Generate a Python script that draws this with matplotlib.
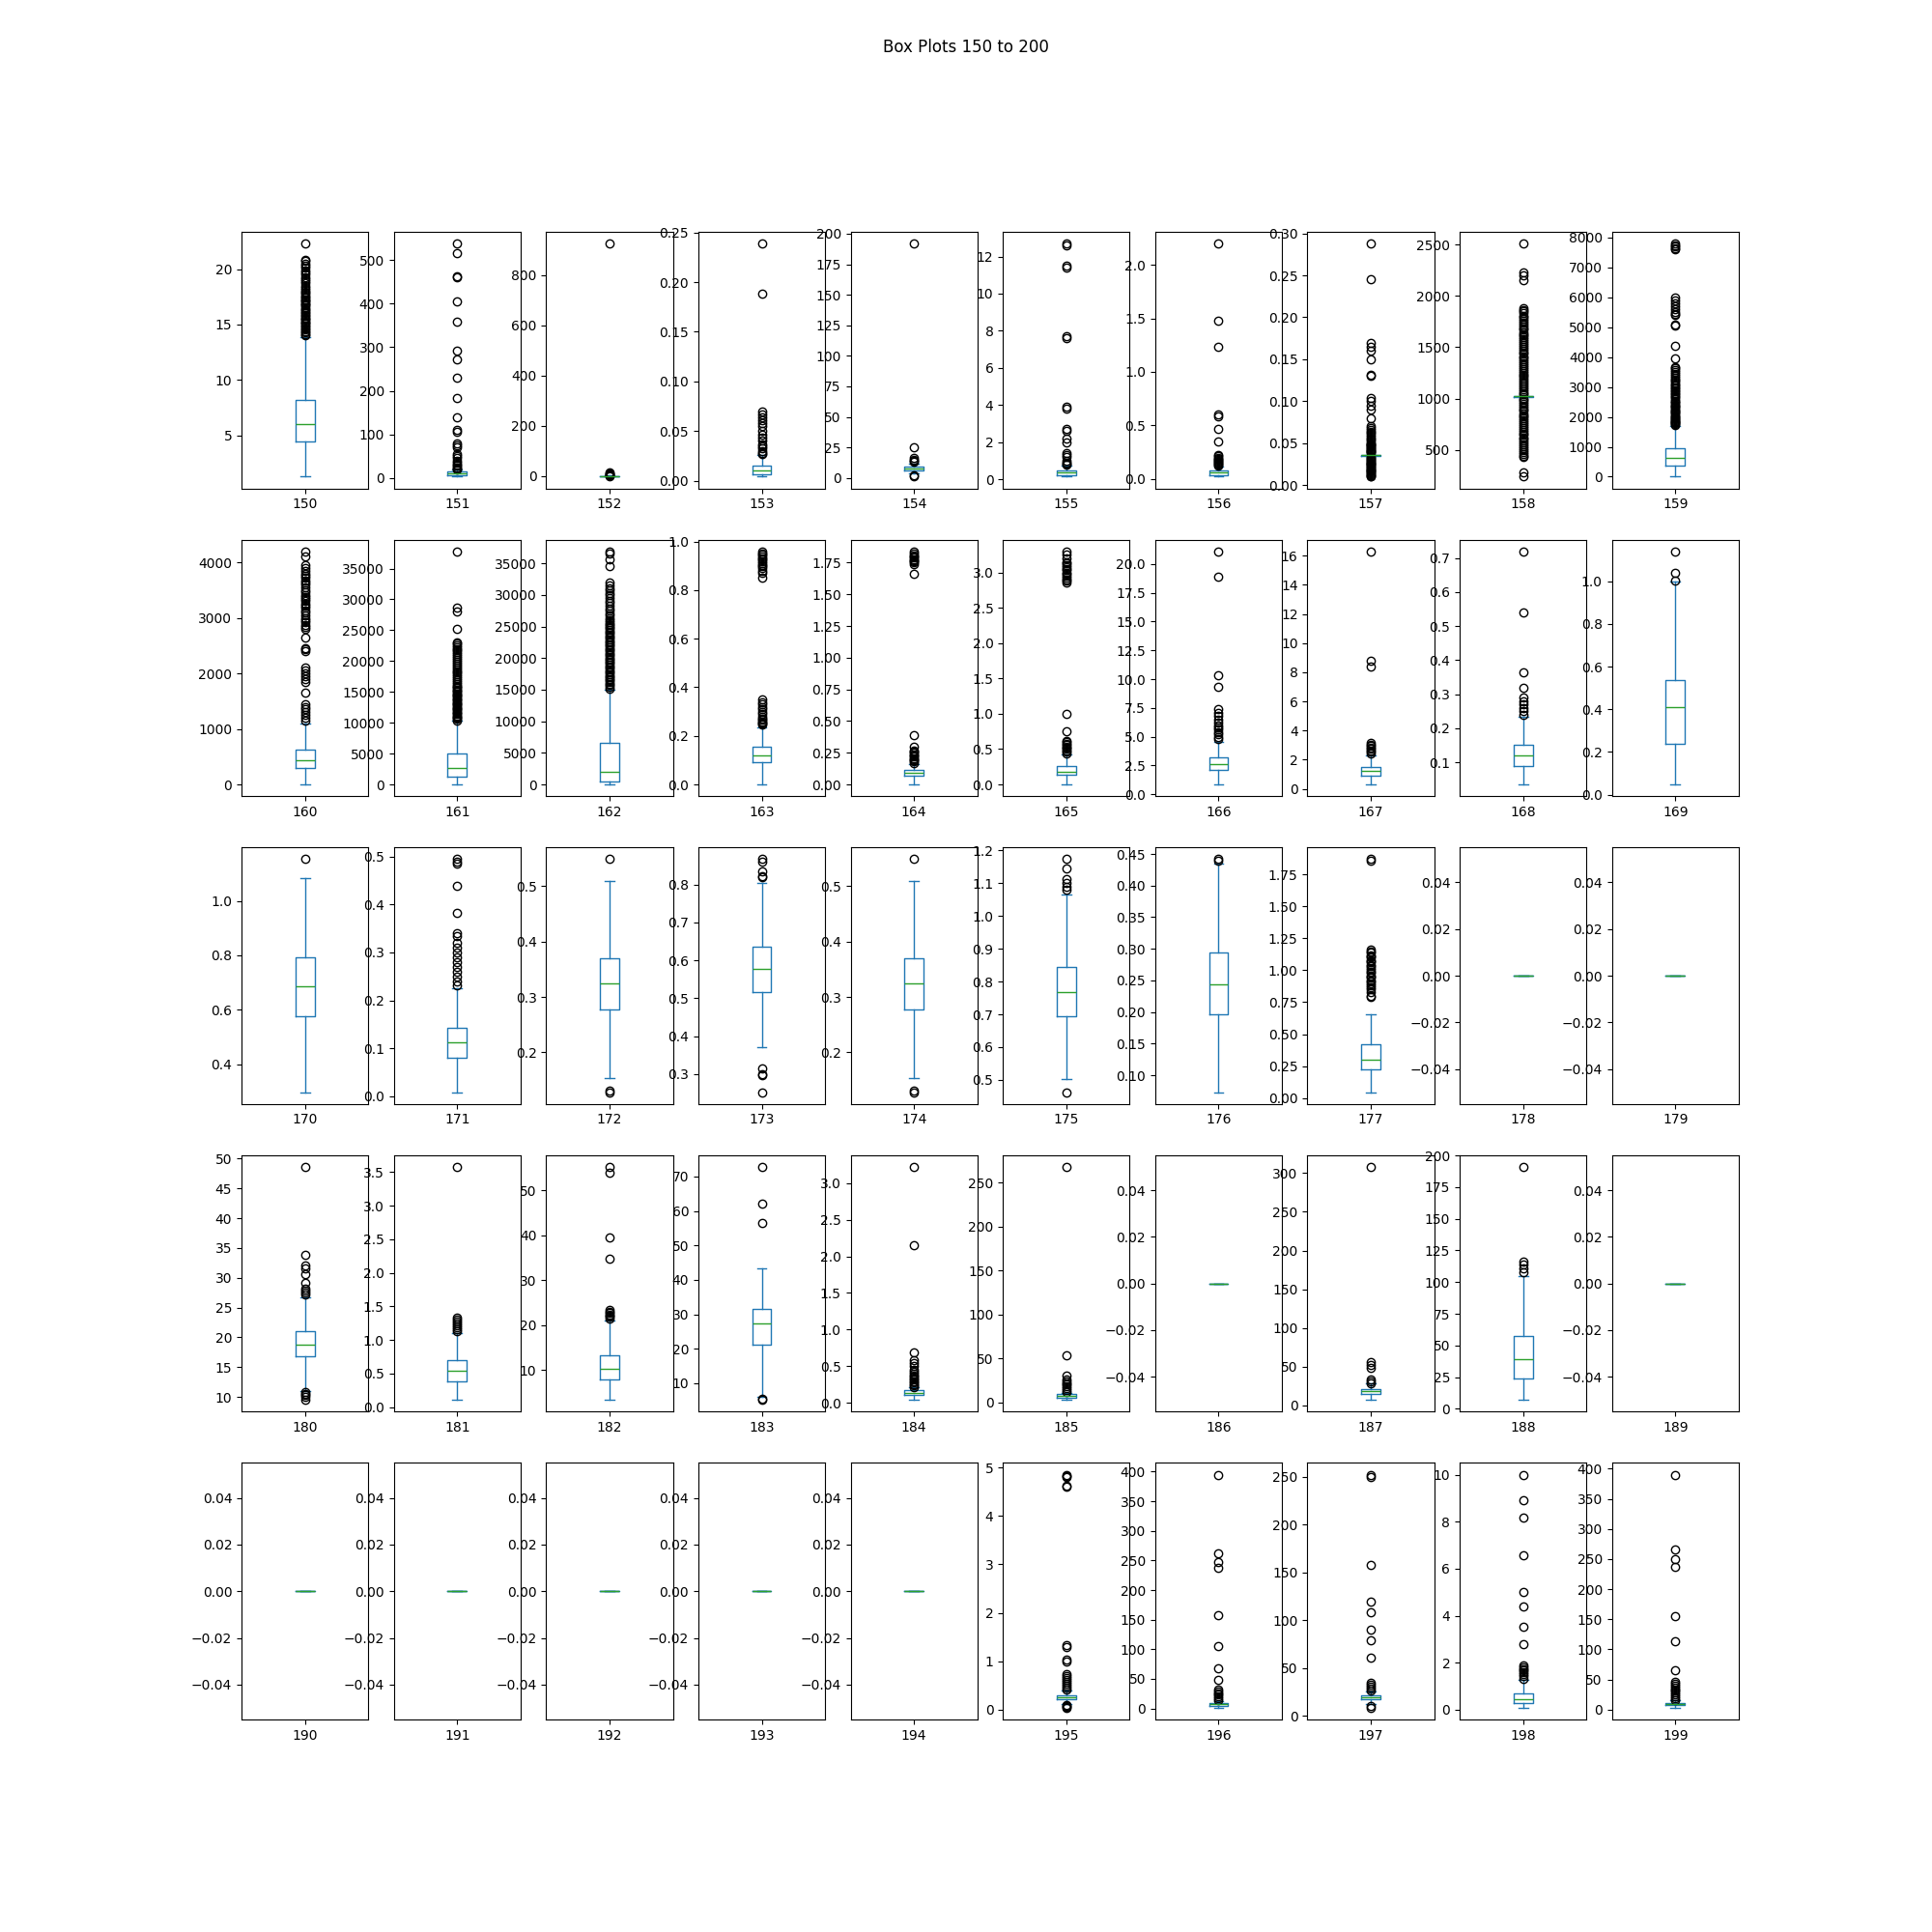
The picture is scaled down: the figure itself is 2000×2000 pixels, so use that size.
import matplotlib
matplotlib.use("Agg")
from matplotlib import pyplot as plt

# one box per column 150..199, stats
columns = list(range(150, 200))

whislo = [1.3, 3, 0, 0.004, 4, 0.15, 0.02, 0.035, 1020, 0,
          0, 0, 0, 0, 0, 0, 0.85, 0.3, 0.035, 0.048,
          0.298, 0.008, 0.153, 0.37, 0.153, 0.502, 0.073, 0.045, 0, 0,
          11.0, 0.105, 3.36, 6.0, 0.04, 2.6, 0, 7, 6.9, 0,
          0, 0, 0, 0, 0, 0.11, 1, 12, 0.08, 3]
q1 = [4.5, 7, 0, 0.0065, 6, 0.2, 0.036, 0.035, 1020, 377,
      294, 1256, 509, 0.0926, 0.07, 0.136, 2.12, 0.885, 0.09, 0.237,
      0.576, 0.0805, 0.277, 0.517, 0.277, 0.694, 0.1965, 0.225, 0, 0,
      16.78, 0.383, 7.86, 21.2, 0.106, 5.5, 0, 14.5, 24.2, 0,
      0, 0, 0, 0, 0, 0.217, 4.4, 17.8, 0.30, 7.5]
med = [6.0, 10, 0.5, 0.0107, 8, 0.36, 0.06, 0.0355, 1021, 615,
       439, 2721, 1933, 0.12, 0.095, 0.18, 2.65, 1.22, 0.12, 0.412,
       0.685, 0.113, 0.325, 0.578, 0.325, 0.768, 0.244, 0.30, 0, 0,
       18.73, 0.537, 10.2, 27.4, 0.132, 7.3, 0, 18.7, 39.5, 0,
       0, 0, 0, 0, 0, 0.263, 7, 19.5, 0.44, 10]
q3 = [8.2, 14, 1, 0.015, 9, 0.48, 0.075, 0.036, 1022, 938,
      623, 5076, 6512, 0.156, 0.116, 0.264, 3.21, 1.48, 0.151, 0.538,
      0.794, 0.1416, 0.37, 0.636, 0.37, 0.844, 0.2935, 0.42, 0, 0,
      21.0, 0.695, 13.4, 31.6, 0.172, 9.2, 0, 20.8, 57.3, 0,
      0, 0, 0, 0, 0, 0.296, 9.8, 21.1, 0.71, 11.7]
whishi = [13.9, 19, 2.5, 0.026, 12, 0.75, 0.11, 0.036, 1022, 1703,
          1102, 10310, 15007, 0.2355, 0.16, 0.43, 4.55, 2.3, 0.233, 1.0,
          1.085, 0.226, 0.509, 0.803, 0.509, 1.067, 0.435, 0.653, 0, 0,
          26.8, 1.1, 21.07, 43.2, 0.21, 11, 0, 28, 105, 0,
          0, 0, 0, 0, 0, 0.4, 12, 26, 1.25, 15]

fliers = [
    # 150
    [14.05, 14.15, 14.3, 14.4, 14.55, 14.65, 14.8, 14.9, 15.05, 15.15, 15.3,
     15.4, 15.55, 15.65, 15.8, 15.9, 16.05, 16.15, 16.3, 16.4, 16.55, 16.7,
     16.8, 16.95, 17.05, 17.2, 17.3, 17.45, 17.55, 17.7, 17.85, 17.95, 18.1,
     18.3, 18.5, 18.7, 18.9, 19.1, 19.3, 19.5, 19.7, 19.9, 20.1, 20.3, 20.5,
     20.7, 20.8, 22.3],
    # 151
    [20, 22, 25, 28, 30, 35, 40, 45, 50, 55, 70, 75, 80, 105, 110, 140, 183,
     230, 272, 292, 358, 405, 460, 463, 515, 538],
    # 152
    [-2, 4, 6, 9, 12, 15, 925],
    # 153
    [0.027, 0.028, 0.030, 0.033, 0.035, 0.037, 0.040, 0.043, 0.046, 0.050,
     0.055, 0.058, 0.061, 0.064, 0.067, 0.070, 0.188, 0.239],
    # 154
    [1, 2, 13, 14, 15, 16, 25, 192],
    # 155
    [0.8, 0.85, 0.9, 1.0, 1.2, 1.3, 1.4, 2.0, 2.2, 2.6, 2.7, 3.8, 3.9, 7.6,
     7.7, 11.4, 11.5, 12.6, 12.7],
    # 156
    [0.12, 0.13, 0.14, 0.15, 0.16, 0.17, 0.18, 0.19, 0.20, 0.21, 0.22, 0.35,
     0.47, 0.58, 0.60, 1.235, 1.476, 2.2],
    # 157
    [0.010, 0.011, 0.012, 0.013, 0.014, 0.015, 0.016, 0.017, 0.018, 0.019,
     0.020, 0.021, 0.022, 0.023, 0.024, 0.025, 0.026, 0.027, 0.028, 0.029,
     0.030, 0.031, 0.032, 0.033, 0.038, 0.039, 0.040, 0.041, 0.042, 0.043,
     0.044, 0.045, 0.046, 0.047, 0.048, 0.049, 0.050, 0.052, 0.054, 0.056,
     0.058, 0.060, 0.062, 0.064, 0.066, 0.068, 0.070, 0.080, 0.090, 0.095,
     0.100, 0.104, 0.130, 0.132, 0.150, 0.160, 0.165, 0.170, 0.246, 0.288],
    # 158
    [240, 285, 430, 445, 465, 480, 500, 520, 535, 555, 570, 590, 610, 625,
     645, 660, 680, 700, 715, 735, 750, 770, 790, 805, 825, 840, 860, 880,
     895, 915, 930, 950, 970, 985, 1000, 1040, 1055, 1075, 1090, 1110, 1130,
     1145, 1165, 1180, 1200, 1220, 1235, 1255, 1270, 1290, 1310, 1325, 1345,
     1360, 1380, 1400, 1415, 1435, 1450, 1470, 1490, 1505, 1525, 1540, 1560,
     1580, 1595, 1615, 1630, 1650, 1670, 1685, 1705, 1720, 1740, 1760, 1775,
     1795, 1810, 1830, 1850, 1865, 1880, 2150, 2200, 2230, 2510],
    # 159
    [1720, 1750, 1780, 1810, 1840, 1870, 1900, 1930, 1960, 1990, 2020, 2060,
     2100, 2140, 2180, 2220, 2260, 2300, 2340, 2380, 2420, 2460, 2500, 2550,
     2600, 2650, 2700, 2750, 2800, 2850, 2900, 2950, 3000, 3050, 3100, 3150,
     3200, 3260, 3320, 3380, 3440, 3500, 3560, 3620, 3660, 3960, 4370, 5070,
     5100, 5400, 5450, 5500, 5600, 5700, 5800, 5900, 6000, 7600, 7650, 7700,
     7750, 7800],
    # 160
    [1150, 1200, 1250, 1300, 1350, 1400, 1450, 1660, 1850, 1900, 1950, 2000,
     2050, 2100, 2400, 2430, 2460, 2640, 2800, 2840, 2880, 2920, 2960, 3000,
     3050, 3100, 3140, 3180, 3220, 3260, 3300, 3340, 3380, 3420, 3460, 3500,
     3550, 3600, 3640, 3680, 3720, 3760, 3800, 3850, 3900, 3950, 4100, 4200],
    # 161
    [10400, 10600, 10800, 11000, 11200, 11400, 11600, 11800, 12000, 12200,
     12400, 12600, 12800, 13000, 13200, 13400, 13600, 13800, 14000, 14200,
     14400, 14600, 14800, 15000, 15200, 15400, 15600, 15800, 16000, 16300,
     16600, 16900, 17200, 17500, 17800, 18100, 18400, 18700, 19000, 19300,
     19600, 19900, 20200, 20500, 20800, 21100, 21400, 21700, 22000, 22300,
     22600, 22900, 23100, 25300, 28000, 28600, 37800],
    # 162
    [15200, 15450, 15700, 15950, 16200, 16450, 16700, 16950, 17200, 17450,
     17700, 17950, 18200, 18450, 18700, 18950, 19200, 19450, 19700, 19950,
     20200, 20450, 20700, 20950, 21200, 21450, 21700, 21950, 22200, 22450,
     22700, 22950, 23200, 23450, 23700, 23950, 24200, 24450, 24700, 24950,
     25200, 25450, 25700, 25950, 26300, 26700, 27100, 27500, 27900, 28300,
     28700, 29100, 29500, 29900, 30300, 30700, 31100, 31500, 31900, 34600,
     35600, 36500, 36900],
    # 163
    [0.245, 0.25, 0.255, 0.26, 0.265, 0.27, 0.28, 0.29, 0.30, 0.31, 0.32,
     0.33, 0.34, 0.35, 0.85, 0.87, 0.88, 0.89, 0.90, 0.905, 0.91, 0.92,
     0.925, 0.93, 0.94, 0.945, 0.95, 0.96],
    # 164
    [0.17, 0.18, 0.19, 0.20, 0.21, 0.22, 0.23, 0.24, 0.25, 0.26, 0.27, 0.30,
     0.39, 1.66, 1.74, 1.75, 1.76, 1.77, 1.78, 1.79, 1.80, 1.81, 1.82, 1.84],
    # 165
    [0.44, 0.46, 0.48, 0.50, 0.52, 0.54, 0.56, 0.58, 0.60, 0.62, 0.75, 1.0,
     2.86, 2.88, 2.9, 2.93, 2.95, 2.98, 3.0, 3.03, 3.05, 3.08, 3.1, 3.13,
     3.15, 3.2, 3.25, 3.3],
    # 166
    [4.8, 5.0, 5.2, 5.4, 5.6, 5.8, 6.0, 6.2, 6.5, 6.8, 7.1, 7.4, 9.3, 10.3,
     18.9, 21.1],
    # 167
    [2.45, 2.55, 2.65, 2.75, 2.85, 2.95, 3.05, 3.15, 8.4, 8.8, 16.3],
    # 168
    [0.24, 0.25, 0.26, 0.27, 0.28, 0.29, 0.32, 0.365, 0.54, 0.72],
    # 169
    [1.005, 1.04, 1.14],
    # 170
    [1.153],
    # 171
    [0.232, 0.24, 0.25, 0.26, 0.27, 0.28, 0.29, 0.30, 0.31, 0.32, 0.335, 0.34,
     0.383, 0.44, 0.485, 0.49, 0.495],
    # 172
    [0.128, 0.131, 0.549],
    # 173
    [0.252, 0.296, 0.30, 0.315, 0.82, 0.823, 0.834, 0.86, 0.867],
    # 174
    [0.128, 0.131, 0.549],
    # 175
    [0.462, 1.08, 1.09, 1.10, 1.113, 1.144, 1.174],
    # 176
    [0.44, 0.442],
    # 177
    [0.79, 0.80, 0.83, 0.85, 0.87, 0.88, 0.90, 0.91, 0.92, 0.94, 0.95, 0.96,
     0.98, 0.99, 1.00, 1.02, 1.03, 1.04, 1.06, 1.07, 1.08, 1.10, 1.11, 1.12,
     1.14, 1.15, 1.16, 1.86, 1.87],
    # 178, 179
    [], [],
    # 180
    [9.5, 10.1, 10.3, 10.5, 10.8, 27.2, 27.5, 27.8, 28.1, 29.2, 30.6, 31.5,
     32.0, 33.9, 48.6],
    # 181
    [1.13, 1.16, 1.19, 1.22, 1.25, 1.28, 1.31, 1.33, 3.58],
    # 182
    [21.5, 21.8, 22.1, 22.4, 22.7, 23.0, 23.3, 34.8, 39.4, 54.0, 55.2],
    # 183
    [5.1, 5.4, 56.5, 62.1, 72.8],
    # 184
    [0.22, 0.24, 0.26, 0.28, 0.30, 0.32, 0.34, 0.36, 0.38, 0.40, 0.42, 0.45,
     0.50, 0.55, 0.59, 0.69, 2.15, 3.22],
    # 185
    [12, 14, 16, 18, 20, 22, 24, 26, 30, 54, 268],
    # 186
    [],
    # 187
    [29, 31, 33, 48, 52, 56, 308],
    # 188
    [108, 111, 114, 116.5, 191],
    # 189 .. 194
    [], [], [], [], [], [],
    # 195
    [0.04, 0.06, 0.08, 0.10, 0.42, 0.46, 0.50, 0.54, 0.58, 0.62, 0.66, 0.70,
     0.74, 1.0, 1.03, 1.3, 1.33, 4.6, 4.63, 4.8, 4.83, 4.85],
    # 196
    [14, 17, 20, 23, 26, 29, 32, 48, 67, 106, 157, 238, 247, 262, 395],
    # 197
    [8.5, 10.5, 27, 29, 31, 33, 35, 61, 79, 90, 108, 119, 158, 250, 252],
    # 198
    [1.33, 1.42, 1.50, 1.58, 1.66, 1.74, 1.82, 1.90, 2.77, 3.52, 4.41, 4.99,
     6.56, 8.18, 8.9, 10.0],
    # 199
    [16, 19, 22, 25, 28, 31, 34, 37, 40, 43, 46, 66, 114, 156, 237, 250, 266,
     390],
]

blue = '#1f77b4'
green = '#2ca02c'

fig, axes = plt.subplots(5, 10, figsize=(20, 20))

for i, ax in enumerate(axes.flat):
    stats = [{
        'label': str(columns[i]),
        'whislo': whislo[i],
        'q1': q1[i],
        'med': med[i],
        'q3': q3[i],
        'whishi': whishi[i],
        'fliers': fliers[i],
    }]
    ax.bxp(stats,
           boxprops=dict(color=blue),
           whiskerprops=dict(color=blue),
           capprops=dict(color=blue),
           medianprops=dict(color=green),
           flierprops=dict(marker='o', markerfacecolor='none',
                           markeredgecolor='black'))

fig.suptitle("Box Plots 150 to 200")
fig.savefig("out.png", dpi=100)
